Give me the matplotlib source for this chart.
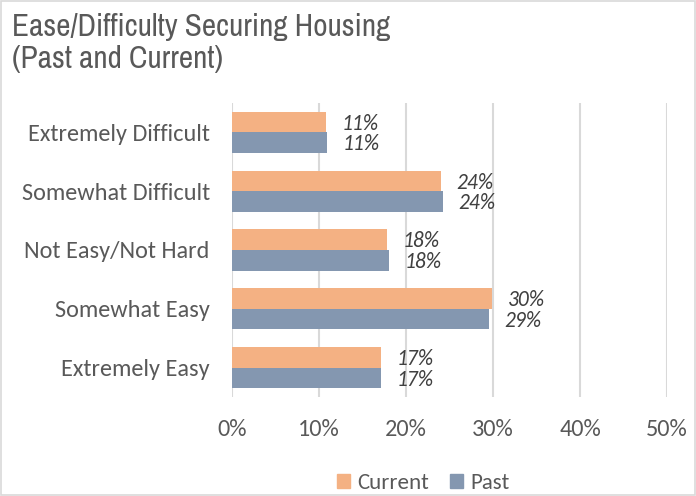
import matplotlib
matplotlib.use("Agg")
import matplotlib.pyplot as plt
from matplotlib.patches import Rectangle, Patch
import numpy as np

# data
categories = ["Extremely Difficult", "Somewhat Difficult", "Not Easy/Not Hard",
              "Somewhat Easy", "Extremely Easy"]
current = [10.8, 24.0, 17.8, 29.9, 17.1]
past = [10.9, 24.25, 18.05, 29.5, 17.15]
current_labels = ["11%", "24%", "18%", "30%", "17%"]
past_labels = ["11%", "24%", "18%", "29%", "17%"]

orange = "#F4B183"
blue = "#8497B0"
text_col = "#595959"
body_font = ["Carlito", "DejaVu Sans"]

fig = plt.figure(figsize=(6.96, 4.96), dpi=100)
ax = fig.add_axes([232 / 696, 1 - 397 / 496, (667 - 232) / 696, 294 / 496])

y = np.arange(len(categories))
h = 0.35
ax.barh(y - h / 2, current, height=h, color=orange, label="Current", zorder=3)
ax.barh(y + h / 2, past, height=h, color=blue, label="Past", zorder=3)

for i in range(len(categories)):
    ax.text(current[i] + 1.8, y[i] - h / 2 + 0.03, current_labels[i], ha="left", va="center",
            style="italic", fontsize=15.5, color="#404040", family=body_font)
    ax.text(past[i] + 1.8, y[i] + h / 2 + 0.03, past_labels[i], ha="left", va="center",
            style="italic", fontsize=15.5, color="#404040", family=body_font)

ax.set_xlim(0, 50)
ax.set_ylim(len(categories) - 0.5, -0.5)
ax.set_xticks(range(0, 51, 10))
ax.set_xticklabels([str(t) + "%" for t in range(0, 51, 10)])
ax.set_yticks(y)
ax.set_yticklabels(categories)
ax.xaxis.grid(True, color="#D9D9D9", lw=1.5, zorder=0)
ax.tick_params(length=0, labelsize=17.5, labelcolor=text_col)
ax.tick_params(axis="x", pad=16)
ax.tick_params(axis="y", pad=16)
for lab in ax.get_xticklabels() + ax.get_yticklabels():
    lab.set_family(body_font)
for s in ax.spines.values():
    s.set_visible(False)

fig.text(12 / 696, 1 - 43 / 496, "Ease/Difficulty Securing Housing\n(Past and Current)",
         ha="left", va="center", fontsize=22.5, color=text_col,
         family=["Archivo Narrow", "DejaVu Sans"], linespacing=1.2)

handles = [Patch(color=orange), Patch(color=blue)]
fig.legend(handles, ["Current", "Past"], loc="center", bbox_to_anchor=(423 / 696, 1 - 483 / 496),
           ncol=2, frameon=False, handlelength=0.6, handleheight=0.6, handletextpad=0.3,
           columnspacing=0.9, prop={"family": body_font, "size": 16.5}, labelcolor=text_col)

fig.patches.append(Rectangle((0.002, 0.002), 0.996, 0.996, transform=fig.transFigure,
                             fill=False, edgecolor="#D9D9D9", lw=1.2))

fig.savefig("out.png", dpi=100)
